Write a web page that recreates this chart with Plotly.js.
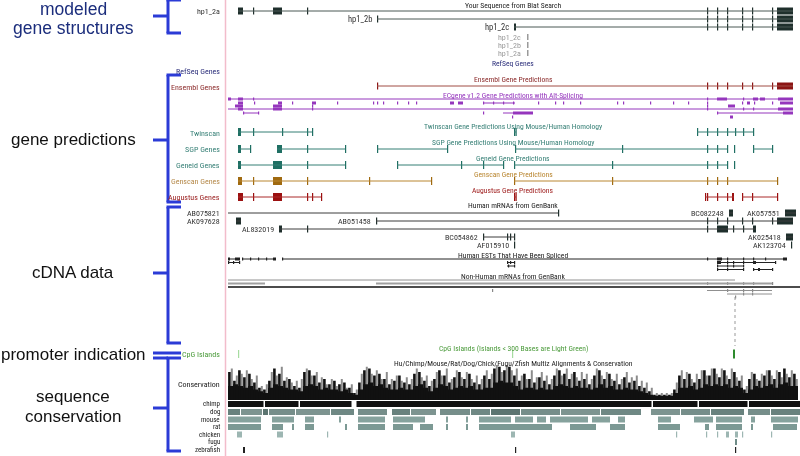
<!DOCTYPE html>
<html><head><meta charset="utf-8">
<script src="https://cdn.plot.ly/plotly-3.0.1.min.js"></script>
<style>html,body{margin:0;padding:0;background:#fff}#chart{width:800px;height:456px;opacity:0.999;will-change:transform}</style>
</head><body><div id="chart"></div>
<script>
// ===== DATA (positions in kb from the left edge of the browser window) =====
// Your Sequence from Blat Search
const blatNames = ['hp1_2a','hp1_2b','hp1_2c'];
const blatStart = [1.0, 14.9, 28.6];
const blatEnd   = [56.5, 56.5, 56.5];
const blatExons = [
  [[1.0,1.5],2.5,[4.5,5.4],7.9,47.9,48.9,49.9,51.4,52.4,54.4,[54.9,56.5]],
  [14.9,47.9,48.9,49.9,51.4,52.4,54.4,[54.9,56.5]],
  [[28.6,28.8],47.9,48.9,49.9,51.4,52.4,54.4,[54.9,56.5]]
];
// RefSeq Genes
const refseqNames = ['hp1_2c','hp1_2b','hp1_2a'];
const refseqPos   = [29.9, 29.9, 29.9];
// Ensembl
const ensemblStart = [14.9], ensemblEnd = [56.5];
const ensemblExons = [[14.9,47.9,48.9,49.9,51.4,52.4,54.4,[54.9,56.5]]];
// ECgene
const ecRow   = [0,1,1,1,2,2,3,4,4,4,4,5,5];
const ecStart = [0,null,25.5,null,null,null,0,1.5,null,27.5,48.9,null,null];
const ecEnd   = [56.5,null,28.7,null,null,null,56.5,3.0,null,30.5,56.5,null,null];
const ecExons = [
  [[0,0.3],[1.0,1.5],2.5,47.9,[48.9,49.9],51.5,[52.5,53.0],[53.2,53.7],[55.0,56.5]],
  [[1.0,1.5],2.6,[5.0,5.4],6.4,[8.4,8.8],10.9,14.5,14.9,15.5,16.9,18.0,18.8,[22.2,22.6],[23.0,23.5]],
  [25.5,26.5,27.5,28.5],
  [31.0,32.7,33.5,35.2,38.9,39.5,42.2,44.5,46.0,47.9,51.4,[51.9,52.2],52.6,54.4,[55.2,56.5]],
  [[0.7,1.5],[4.5,5.4],8.4],
  [47.9,[50.0,50.7]],
  [[1.0,1.5],[4.5,5.4],8.4,47.9,51.5,52.5,[55.0,56.5]],
  [1.5,3.0],
  [25.5],
  [[28.5,30.5]],
  [48.9,[55.5,56.5]],
  [28.4],
  [[50.2,50.5]]
];
// Twinscan
const twinStart = [1.0,28.6,46.9], twinEnd = [8.4,28.8,52.5];
const twinExons = [[[1.0,1.3],2.5,5.4,7.9,8.4],[28.6,28.75],[46.9,47.9,48.9,49.9,50.7,51.5,52.5]];
// SGP
const sgpStart = [1.0,4.9,14.9,28.7,50.6,52.5], sgpEnd = [2.2,11.7,21.9,49.9,50.6,54.4];
const sgpExons = [[[1.0,1.3],2.2],[[4.9,5.4],7.9,11.7],[14.9,21.9],[28.7,39.4,47.9,48.9,49.9],[50.6],[52.5,54.4]];
// Geneid
const geneidStart = [1.0,16.9,28.6,50.6], geneidEnd = [11.7,27.5,49.9,50.6];
const geneidExons = [[[1.0,1.3],[4.5,5.4],7.9,11.7],[16.9,23.3,25.5,27.5],[28.6,38.4,47.9,48.9,49.9],[50.6]];
// Genscan
const genscanStart = [1.0,28.6], genscanEnd = [20.3,54.9];
const genscanExons = [[[1.0,1.4],2.5,[4.5,5.4],7.9,14.1,20.3],[28.6,38.4,47.9,48.9,49.9,54.9]];
// Augustus
const augStart = [1.0,28.6,47.7,51.4], augEnd = [9.3,28.8,50.6,54.9];
const augExons = [[[1.0,1.5],2.5,[4.5,5.4],7.9,8.4,9.3],[28.6,28.75],[47.7,47.9,48.9,49.9,[50.4,50.6]],[51.4,52.4,54.9]];
// Human mRNAs from GenBank
const mrnaNames = ['AB075821','BC082248','AK057551','AK097628','AB051458','AL832019','BC054862','AK025418','AF015910','AK123704'];
const mrnaRow   = [0,0,0,1,1,2,3,3,4,4];
const mrnaStart = [0,50.1,55.7,0.8,14.8,5.1,25.5,55.8,28.6,56.3];
const mrnaEnd   = [33.0,50.5,56.8,1.3,56.5,52.8,28.7,56.5,28.6,56.3];
const mrnaExons = [[33.0],[[50.1,50.5]],[[55.7,56.8]],[[0.8,1.3]],
  [14.8,47.9,48.9,49.9,51.4,52.4,54.4,[54.9,56.5]],
  [[5.1,5.4],7.9,47.9,[48.9,50.0],50.5,51.5,[52.5,52.8]],
  [25.5,27.9,28.2,28.6],[[55.8,56.5]],[28.6],[56.3]];
// Human ESTs That Have Been Spliced
const estRow   = [0,0,0,1,1,1,2,2,3,3];
const estStart = [0,1.4,5.4,0,27.9,48.9,27.9,48.9,48.9,52.5];
const estEnd   = [1.2,4.8,55.9,1.2,28.7,54.7,28.7,51.5,51.5,54.4];
const estExons = [[[0,0.2],[0.7,1.2]],[1.4,2.2,3.0,3.8,[4.5,4.8]],[5.4,47.9,[48.9,49.4],49.9,51.5,52.5,53.7,[55.5,55.9]],
  [0,0.5,1.1],[27.9,28.2,28.6],[[48.9,49.3],49.9,50.5,51.5,[52.5,52.8],54.7],
  [28.0,28.6],[48.9,49.9,50.5,51.5],[48.9,49.9,51.5],[52.5,[53.0,53.2],54.4]];
// Non-Human mRNAs from GenBank
const nhRow   = [0,1,1,2,3,3,4,5];
const nhStart = [0,0,14.8,0,47.9,26.4,49.9,50.7];
const nhEnd   = [50.7,3.7,54.4,57.2,54.4,26.4,54.4,50.7];
const nhExons = [[],[],[47.9,49.9,51.5,52.5,54.4],[],[49.9,51.5,52.4],[26.4],[51.5,52.4],[50.7]];
const nhGapX  = [50.7];
// CpG Islands
const cpgStart = [1.0,28.4,50.5], cpgEnd = [1.1,28.5,50.7];
const cpgShort = [true,true,false];
// Conservation (0..1), one bin per 0.5 kb
const consStep = 0.5;
const consBlack = [0.8,0.55,0.85,0.65,0.75,0.5,0.35,0.3,0.55,0.9,0.75,0.55,0.6,0.4,0.35,0.8,0.85,0.7,0.5,0.6,0.45,
 0.55,0.45,0.5,0.35,0.2,0.5,0.85,0.9,0.7,0.75,0.6,0.45,0.55,0.7,0.5,0.45,0.75,0.8,0.55,0.4,0.6,0.85,0.7,0.5,0.65,
 0.8,0.6,0.75,0.5,0.45,0.7,0.6,0.9,0.95,0.85,0.95,0.7,0.55,0.75,0.6,0.5,0.65,0.55,0.45,0.7,0.85,0.75,0.6,0.8,0.55,
 0.6,0.45,0.7,0.85,0.6,0.75,0.55,0.45,0.65,0.5,0.55,0.4,0.35,0.25,0.15,0.15,0.15,0.15,0.3,0.7,0.6,0.75,0.5,0.6,0.85,
 0.7,0.9,0.65,0.85,0.6,0.8,0.55,0.3,0.6,0.75,0.55,0.7,0.85,0.6,0.8,0.9,0.65,0.75];
const consGrey = [0.9,0.7,0.75,0.85,0.6,0.7,0.4,0.45,0.8,0.7,0.95,0.65,0.5,0.55,0.6,0.9,0.7,0.8,0.65,0.45,0.6,
 0.4,0.6,0.35,0.45,0.3,0.75,0.95,0.75,0.85,0.6,0.8,0.6,0.7,0.55,0.65,0.6,0.9,0.65,0.7,0.55,0.8,0.7,0.9,0.6,0.85,
 0.65,0.8,0.6,0.7,0.6,0.85,0.75,1.0,0.8,1.0,0.85,0.9,0.7,0.6,0.85,0.65,0.8,0.7,0.6,0.9,0.7,0.9,0.75,0.65,0.8,
 0.75,0.6,0.9,0.7,0.8,0.6,0.75,0.6,0.8,0.65,0.7,0.55,0.5,0.35,0.2,0.2,0.2,0.2,0.5,0.85,0.8,0.6,0.75,0.85,0.7,
 0.9,0.75,0.9,0.7,0.9,0.65,0.7,0.4,0.8,0.6,0.75,0.85,0.7,0.85,0.65,0.75,0.85,0.6];
const consFloor = [0.4,0.45,0.4,0.35,0.4,0.3,0.25,0.2,0.35,0.45,0.4,0.35,0.3,0.3,0.25,0.4,0.45,0.4,0.3,0.35,0.3,
 0.3,0.25,0.3,0.2,0.15,0.3,0.45,0.5,0.4,0.45,0.35,0.3,0.3,0.35,0.3,0.3,0.4,0.45,0.35,0.25,0.35,0.45,0.4,0.3,0.35,
 0.4,0.35,0.4,0.3,0.3,0.35,0.35,0.5,0.55,0.5,0.5,0.4,0.3,0.35,0.35,0.3,0.35,0.3,0.3,0.4,0.45,0.4,0.35,0.4,0.35,
 0.35,0.3,0.35,0.45,0.35,0.4,0.3,0.3,0.35,0.3,0.3,0.25,0.2,0.15,0.12,0.12,0.12,0.12,0.2,0.35,0.35,0.4,0.3,0.35,0.45,
 0.4,0.45,0.4,0.45,0.35,0.4,0.35,0.2,0.3,0.4,0.35,0.4,0.45,0.35,0.45,0.5,0.4,0.4];
// Multiz species alignments: [start, end] blocks
const chimpSegs = [[0,3.55],[3.7,7.05],[7.2,12.35],[12.85,42.35],[42.5,46.95],[47.1,51.95],[52.1,57.2]];
const dogSegs  = [[0,1.2],[1.3,3.4],[3.5,4.0],[4.1,6.7],[6.8,10.2],[10.3,12.6],[13.0,15.9],[16.4,18.2],[18.3,20.8],
  [21.2,24.2],[24.3,26.2],[26.3,29.2],[29.3,33.2],[33.3,37.2],[37.3,41.3],[42.3,45.2],[45.3,48.2],[48.3,51.6],[52.0,54.2],[54.3,57.2]];
const dogShade = [0.6,0.45,0.7,0.5,0.45,0.55,0.5,0.6,0.45,0.5,0.55,0.7,0.5,0.45,0.55,0.45,0.5,0.6,0.5,0.6];
const mouseSegs = [[0,3.3],[4.4,6.6],[7.7,8.6],[11.1,11.3],[13,15.7],[16.5,19.7],[21.8,22],[23.8,24],[25.1,28.3],[28.7,30.5],
  [30.9,31.8],[32.2,36],[36.4,38.2],[39,39.7],[43,44.3],[46.6,48.5],[48.8,51.4],[52.3,52.7],[54.3,57]];
const ratSegs = [[0,3.3],[4.4,5.5],[6.4,6.6],[7.7,8.6],[11.7,11.9],[13,15.7],[16.5,18.5],[19.2,20.5],[21.8,22],[23.8,24],
  [25.1,32.4],[34.2,36.8],[38.2,39.7],[43,45.2],[47.7,48.1],[48.8,51.4],[52.3,52.5],[54.5,56.9]];
const chickenSegs = [[0.9,1.4],[4.9,5.5],[9.9,10.0],[28.3,28.7],[44.8,44.9],[47.8,47.9],[48.9,49.0],[49.8,50.1],[50.7,51.0],[51.4,51.5],[54.3,54.4]];
const fuguSegs = [[50.7,50.9]];
const zebrafishSegs = [[1.5,1.7],[28.7,28.8],[50.7,50.8]];

// ===== TEXT =====
const trackTitles = ['Your Sequence from Blat Search','RefSeq Genes','Ensembl Gene Predictions',
  'ECgene v1.2 Gene Predictions with Alt-Splicing','Twinscan Gene Predictions Using Mouse/Human Homology',
  'SGP Gene Predictions Using Mouse/Human Homology','Geneid Gene Predictions','Genscan Gene Predictions',
  'Augustus Gene Predictions','Human mRNAs from GenBank','Human ESTs That Have Been Spliced',
  'Non-Human mRNAs from GenBank','CpG Islands (Islands &lt; 300 Bases are Light Green)',
  'Hu/Chimp/Mouse/Rat/Dog/Chick/Fugu/Zfish Multiz Alignments &amp; Conservation'];
const sideLabels = ['RefSeq Genes','Ensembl Genes','Twinscan','SGP Genes','Geneid Genes','Genscan Genes','Augustus Genes',
  'CpG Islands','Conservation','chimp','dog','mouse','rat','chicken','fugu','zebrafish'];
const sectionLabels = ['modeled','gene structures','gene predictions','cDNA data','promoter indication','sequence','conservation'];

// ===== LAYOUT / STYLE =====
const C = {
  blatLine:'#4a5855', blatEx:'#1f2f2c', refseq:'#2a2d7a', refGrey:'#9a9a9a',
  ensLine:'#a04c44', ensEx:'#8b1414', ec:'#9536bd', teal:'#357f75', tealEx:'#1f6f63',
  genscan:'#b98630', genscanEx:'#a06a10', aug:'#ab2a2a', augEx:'#9b1010',
  mrna:'#3c3c3c', est:'#222', nh:'#909090', cpgLight:'#a6dca0', cpgDark:'#2e8b2e', bracket:'#2b3bd6'
};
const Y = {
  blat:[11,19,27], refseq:[37,45,53], ensembl:86, ec:[99,103,106,109,113,117],
  twin:132, sgp:149, geneid:165, genscan:181, aug:197,
  mrna:[213,221,229,237,245], est:[259,262.5,266,269.5], nh:[280,283.5,287,290.5,294,297],
  cpg:354, species:[404,412,419.5,427,434.5,442,450]
};
const titleY = [5,63,79,95,126,142,158,174,190,205,255,276,348,363];
const titleColor = ['#222',C.refseq,'#8b2a2a',C.ec,C.teal,C.teal,C.teal,C.genscan,'#a02020','#222','#222','#222','#4a9a3a','#222'];
const sideY = [71,87,133,149,165,181,197,354,384,404,412,419.5,427,434.5,442,450];
const sideColor = [C.refseq,'#8b2a2a',C.teal,C.teal,C.teal,'#b5894a','#9b2020','#4a9a3a','#222','#222','#222','#222','#222','#222','#222','#222'];
const sideSize = [8,8,8,8,8,8,8,8,8,7,7,7,7,7,7,7];
const sectionY = [9,28,139,272,354,396,416];
const sectionSize = [17.5,17.5,17,17,17,17,17];
const sectionColor = ['#1b2d7c','#1b2d7c','#111','#111','#111','#111','#111'];
const FONT = 'Liberation Sans Narrow, Roboto Condensed, DejaVu Sans Condensed, sans-serif';

// ===== BUILDERS =====
const lineMap = {}, barMap = {};
function addLine(color, w, s, e, y, dash){
  const k = color+'|'+w+'|'+(dash||'');
  if(!lineMap[k]) lineMap[k] = {type:'scatter',mode:'lines',x:[],y:[],line:{color:color,width:w,dash:dash||'solid'},hoverinfo:'skip',connectgaps:false};
  lineMap[k].x.push(s,e,null); lineMap[k].y.push(y,y,null);
}
function addBar(color, s, e, y, h){
  if(!barMap[color]) barMap[color] = {type:'bar',orientation:'h',base:[],x:[],y:[],width:[],marker:{color:color,line:{width:0}},hoverinfo:'skip'};
  const b = barMap[color];
  b.base.push(s); b.x.push(Math.max(e-s,0.12)); b.y.push(y); b.width.push(h);
}
function addGene(y, s, e, exons, lc, ec, h){
  if(s!=null && e>s) addLine(lc, 1, s, e, y);
  exons.forEach(ex=>{ if(Array.isArray(ex)) addBar(ec, ex[0], ex[1], y, h); else addBar(ec, ex, ex+0.12, y, h); });
}
const ann = [];
function txt(text, x, y, color, size, anchor, xref, extra){
  ann.push(Object.assign({text:text,x:x,y:y,xref:xref||'x',yref:'y',showarrow:false,xanchor:anchor||'center',yanchor:'middle',
    font:{family:FONT,size:size||8,color:color}}, extra||{}));
}

// Blat
blatNames.forEach((n,i)=>{
  addGene(Y.blat[i], blatStart[i], blatEnd[i], blatExons[i], C.blatLine, C.blatEx, 7);
  if(i===0) txt(n, 222/800, Y.blat[i], '#333', 8, 'right', 'paper');
  else txt(n, blatStart[i], Y.blat[i], '#333', 8.5, 'right', 'x', {xshift:-3});
});
// RefSeq
refseqNames.forEach((n,i)=>{
  addBar(C.refGrey, refseqPos[i], refseqPos[i]+0.15, Y.refseq[i], 6);
  txt(n, refseqPos[i], Y.refseq[i], C.refGrey, 8, 'right', 'x', {xshift:-4});
});
// Ensembl
ensemblStart.forEach((s,i)=>addGene(Y.ensembl, s, ensemblEnd[i], ensemblExons[i], C.ensLine, C.ensEx, 7));
// ECgene
ecRow.forEach((r,i)=>addGene(Y.ec[r], ecStart[i], ecEnd[i], ecExons[i], C.ec, C.ec, 3));
// Gene predictions
twinStart.forEach((s,i)=>addGene(Y.twin, s, twinEnd[i], twinExons[i], C.teal, C.tealEx, 8));
sgpStart.forEach((s,i)=>addGene(Y.sgp, s, sgpEnd[i], sgpExons[i], C.teal, C.tealEx, 8));
geneidStart.forEach((s,i)=>addGene(Y.geneid, s, geneidEnd[i], geneidExons[i], C.teal, C.tealEx, 8));
genscanStart.forEach((s,i)=>addGene(Y.genscan, s, genscanEnd[i], genscanExons[i], C.genscan, C.genscanEx, 8));
augStart.forEach((s,i)=>addGene(Y.aug, s, augEnd[i], augExons[i], C.aug, C.augEx, 8));
// Human mRNAs
mrnaNames.forEach((n,i)=>{
  const y = Y.mrna[mrnaRow[i]];
  addGene(y, mrnaStart[i], mrnaEnd[i], mrnaExons[i], C.mrna, C.blatEx, 7);
  if(mrnaStart[i] < 1.5) txt(n, 222/800, y, '#333', 8, 'right', 'paper');
  else txt(n, mrnaStart[i], y, '#333', 8, 'right', 'x', {xshift:-3});
});
// ESTs
estRow.forEach((r,i)=>addGene(Y.est[r], estStart[i], estEnd[i], estExons[i], C.est, C.est, 3));
// Non-human mRNAs
nhRow.forEach((r,i)=>{
  const y = Y.nh[r];
  if(r===2) addLine('#111', 1.6, nhStart[i], nhEnd[i], y);
  else if(r===1) addLine('#a0a0a0', 2, nhStart[i], nhEnd[i], y);
  else if(nhEnd[i]>nhStart[i]) addLine(C.nh, 1, nhStart[i], nhEnd[i], y);
  nhExons[i].forEach(x=>addBar('#888', x, x+0.1, y, 3));
});
const gapTrace = {type:'scatter',mode:'lines',x:[],y:[],line:{color:'#999',width:1,dash:'dot'},hoverinfo:'skip'};
nhGapX.forEach(x=>{ gapTrace.x.push(x,x,null); gapTrace.y.push(Y.nh[5],346,null); });
// CpG
cpgStart.forEach((s,i)=>addBar(cpgShort[i]?C.cpgLight:C.cpgDark, s, cpgEnd[i], Y.cpg, cpgShort[i]?8:9));
// Species
chimpSegs.forEach(s=>addBar('#111', s[0], s[1], Y.species[0], 6));
function shadeColor(t){ // light -> dark teal grey
  const a=[184,204,200], b=[52,80,76];
  const c=a.map((v,j)=>Math.round(v+(b[j]-v)*t));
  return 'rgb('+c.join(',')+')';
}
dogSegs.forEach((s,i)=>addBar(shadeColor(dogShade[i]), s[0], s[1], Y.species[1], 6));
mouseSegs.forEach(s=>addBar('#86a29d', s[0], s[1], Y.species[2], 6));
ratSegs.forEach(s=>addBar('#7c9994', s[0], s[1], Y.species[3], 6));
chickenSegs.forEach(s=>addBar('#9db6b2', s[0], s[1], Y.species[4], 6));
fuguSegs.forEach(s=>addBar('#6f8c88', s[0], s[1], Y.species[5], 6));
zebrafishSegs.forEach(s=>addBar('#222', s[0], s[1], Y.species[6], 6));

// Conservation bars on their own axis
const cx = consBlack.map((_,i)=>i*consStep);
const consTraces = [
  {type:'bar',x:cx.map(v=>v+0.38),y:consGrey,width:0.2,yaxis:'y2',marker:{color:'#8c8c8c',line:{width:0}},hoverinfo:'skip'},
  {type:'bar',x:cx.map(v=>v+0.25),y:consFloor,width:0.5,yaxis:'y2',marker:{color:'#111',line:{width:0}},hoverinfo:'skip'},
  {type:'bar',x:cx.map(v=>v+0.14),y:consBlack,width:0.26,yaxis:'y2',marker:{color:'#111',line:{width:0}},hoverinfo:'skip'}
];

// Texts
trackTitles.forEach((t,i)=>txt(t, 28.5, titleY[i], titleColor[i], 7.6, 'center', 'x'));
sideLabels.forEach((t,i)=>txt(t, 222/800, sideY[i], sideColor[i], sideSize[i], 'right', 'paper'));
sectionLabels.forEach((t,i)=>ann.push({text:t,x:73/800,y:sectionY[i],xref:'paper',yref:'y',showarrow:false,xanchor:'center',yanchor:'middle',
  borderpad:0,font:{family:'Liberation Sans, Arial, sans-serif',size:sectionSize[i],color:sectionColor[i]}}));

// Shapes: brackets and browser border
const shapes = [];
function seg(x0,y0,x1,y1,color,w){ shapes.push({type:'line',xref:'paper',yref:'y',x0:x0/800,y0:y0,x1:x1/800,y1:y1,line:{color:color,width:w}}); }
seg(225.5,0,225.5,456,'#f2bccb',1.5);
const brackets = [[0,16,33],[75,140,202],[207,273,343],[358,408,451]];
brackets.forEach(b=>{
  seg(168,b[0],168,b[2],C.bracket,3);
  seg(166.5,b[0],181,b[0],C.bracket,3);
  seg(166.5,b[2],181,b[2],C.bracket,3);
  seg(153,b[1],168,b[1],C.bracket,3);
});
seg(153,353,181,353,C.bracket,3);
seg(153,358,168,358,C.bracket,3);

const traces = [...consTraces, ...Object.values(lineMap), gapTrace, ...Object.values(barMap)];
const layout = {
  width:800,height:456,margin:{l:0,r:0,t:0,b:0},paper_bgcolor:'#fff',plot_bgcolor:'rgba(0,0,0,0)',
  showlegend:false,barmode:'overlay',
  xaxis:{domain:[0.285,1],range:[0,57.2],visible:false,fixedrange:true},
  yaxis:{domain:[0,1],range:[456,0],visible:false,fixedrange:true},
  yaxis2:{domain:[56/456,91/456],range:[0,1],visible:false,anchor:'x',fixedrange:true},
  annotations:ann, shapes:shapes
};
Plotly.newPlot('chart', traces, layout, {staticPlot:true,displayModeBar:false});
</script></body></html>
